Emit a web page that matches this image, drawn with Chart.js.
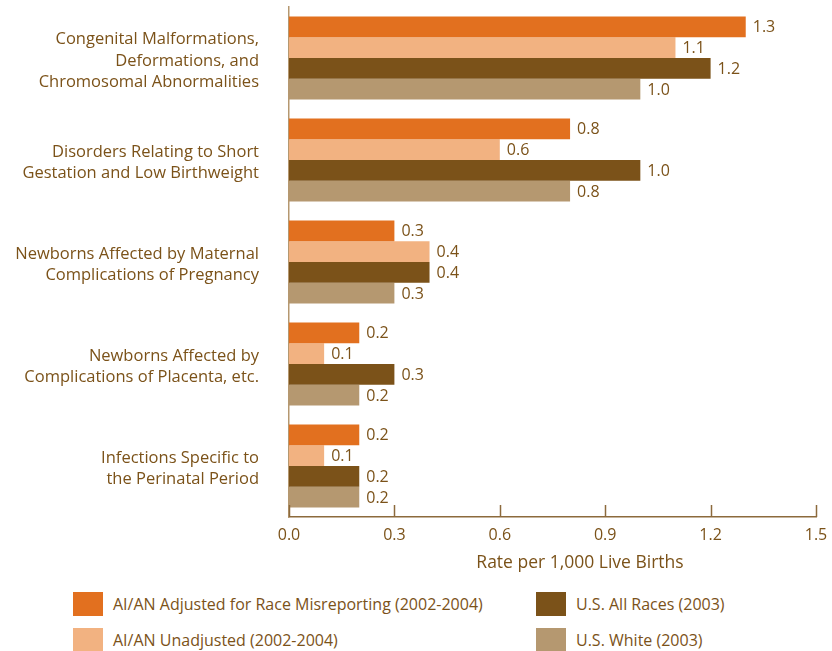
<!DOCTYPE html>
<html>
<head>
<meta charset="utf-8">
<script src="https://cdn.jsdelivr.net/npm/chart.js@4/dist/chart.umd.min.js"></script>
<style>
  html, body { margin:0; padding:0; background:#fff; }
  #wrap { position:relative; width:832px; height:651px; }
  #cv { position:absolute; left:0; top:0; }
  .leg { position:absolute; font-family:"Open Sans", sans-serif; font-size:16px; color:#7B5219; display:flex; align-items:center; height:24px; }
  .leg span.box { display:inline-block; width:30px; height:24px; margin-right:10px; }
</style>
</head>
<body>
<div id="wrap">
  <canvas id="cv" width="832" height="580" style="width:832px;height:580px"></canvas>
  <div id="legend"></div>
</div>
<script>
const categories = [
  ["Congenital Malformations,", "Deformations, and", "Chromosomal Abnormalities"],
  ["Disorders Relating to Short", "Gestation and Low Birthweight"],
  ["Newborns Affected by Maternal", "Complications of Pregnancy"],
  ["Newborns Affected by", "Complications of Placenta, etc."],
  ["Infections Specific to", "the Perinatal Period"]
];
const seriesNames = [
  "AI/AN Adjusted for Race Misreporting (2002-2004)",
  "AI/AN Unadjusted (2002-2004)",
  "U.S. All Races (2003)",
  "U.S. White (2003)"
];
const aianAdjusted   = [1.3, 0.8, 0.3, 0.2, 0.2];
const aianUnadjusted = [1.1, 0.6, 0.4, 0.1, 0.1];
const usAllRaces     = [1.2, 1.0, 0.4, 0.3, 0.2];
const usWhite        = [1.0, 0.8, 0.3, 0.2, 0.2];
const xTicks = [0, 0.3, 0.6, 0.9, 1.2, 1.5];
const axisTitle = "Rate per 1,000 Live Births";

const colors = ["#E2701F", "#F2B281", "#7B5219", "#B59870"];
const textColor = "#7B5219";
const FONT = "'Open Sans', sans-serif";

const seriesValues = [aianAdjusted, aianUnadjusted, usAllRaces, usWhite];

const valueLabels = {
  id: 'valueLabels',
  afterDatasetsDraw(chart) {
    const ctx = chart.ctx;
    ctx.save();
    ctx.font = "16px " + FONT;
    ctx.fillStyle = textColor;
    ctx.textAlign = "left";
    ctx.textBaseline = "middle";
    chart.data.datasets.forEach((ds, i) => {
      chart.getDatasetMeta(i).data.forEach((bar, j) => {
        ctx.fillText(ds.data[j].toFixed(1), bar.x + 7, bar.y + 1);
      });
    });
    ctx.restore();
  }
};

const axisDecor = {
  id: 'axisDecor',
  afterDraw(chart) {
    const sc = chart.scales.x;
    const ys = chart.scales.y;
    const ctx = chart.ctx;
    ctx.save();
    // upward tick marks
    ctx.strokeStyle = "#8C6A3C";
    ctx.lineWidth = 1.5;
    xTicks.forEach(v => {
      const x = Math.round(sc.getPixelForValue(v)) + 0.5;
      ctx.beginPath();
      ctx.moveTo(x, sc.top);
      ctx.lineTo(x, sc.top - 12);
      ctx.stroke();
    });
    // category labels
    ctx.fillStyle = textColor;
    ctx.font = "16.5px " + FONT;
    ctx.textAlign = "right";
    ctx.textBaseline = "middle";
    const lh = 21.5;
    categories.forEach((lines, i) => {
      const cy = ys.getPixelForValue(i) + 3;
      lines.forEach((t, k) => {
        ctx.fillText(t, 259, cy + (k - (lines.length - 1) / 2) * lh);
      });
    });
    // axis title
    ctx.font = "17.5px " + FONT;
    ctx.textAlign = "center";
    ctx.fillText(axisTitle, 580, 563);
    ctx.restore();
  }
};

new Chart(document.getElementById('cv'), {
  type: 'bar',
  data: {
    labels: categories,
    datasets: seriesValues.map((vals, i) => ({
      label: seriesNames[i],
      data: vals,
      backgroundColor: colors[i],
      borderWidth: 0,
      categoryPercentage: 0.815,
      barPercentage: 1.0
    }))
  },
  options: {
    indexAxis: 'y',
    responsive: false,
    animation: false,
    layout: { padding: { top: 7, right: 16, left: 0, bottom: 0 } },
    plugins: { legend: { display: false }, tooltip: { enabled: false } },
    scales: {
      x: {
        min: 0, max: 1.5,
        afterBuildTicks(scale) { scale.ticks = xTicks.map(v => ({ value: v })); },
        afterFit(scale) { scale.height = 63; scale.paddingLeft = 0; scale.paddingRight = 0; },
        grid: { display: false, drawTicks: false },
        border: { display: true, color: "#8C6A3C", width: 1.5 },
        ticks: {
          color: textColor, font: { family: FONT, size: 16 }, padding: 9,
          callback: v => Number(v).toFixed(1)
        },
        title: { display: false }
      },
      y: {
        afterFit(scale) { scale.width = 289; scale.paddingTop = 0; scale.paddingBottom = 0; },
        grid: { display: false, drawTicks: false },
        border: { display: true, color: "#B59870", width: 1.5 },
        ticks: { display: false }
      }
    }
  },
  plugins: [valueLabels, axisDecor]
});

const legPos = [
  { left: 73, top: 592 }, { left: 73, top: 628 },
  { left: 536, top: 592 }, { left: 536, top: 628 }
];
const legEl = document.getElementById('legend');
seriesNames.forEach((name, i) => {
  const d = document.createElement('div');
  d.className = 'leg';
  d.style.left = legPos[i].left + 'px';
  d.style.top = legPos[i].top + 'px';
  d.innerHTML = '<span class="box" style="background:' + colors[i] + '"></span>' + name;
  legEl.appendChild(d);
});
</script>
</body>
</html>
